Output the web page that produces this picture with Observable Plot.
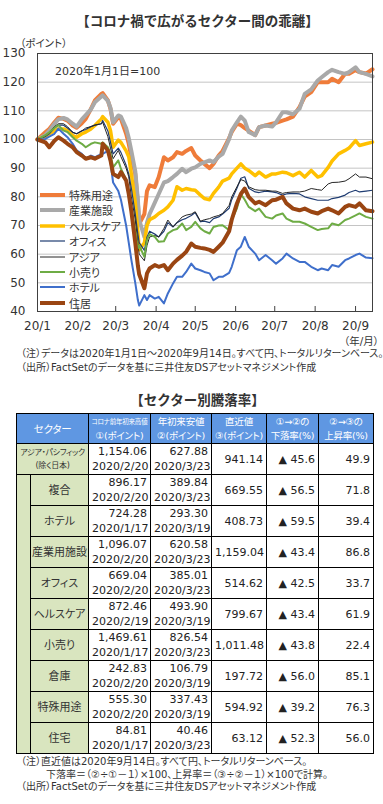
<!DOCTYPE html>
<html><head><meta charset="utf-8">
<script src="https://cdn.jsdelivr.net/npm/d3@7"></script>
<script src="https://cdn.jsdelivr.net/npm/@observablehq/plot@0.6"></script>
<style>
body{margin:0;background:#fff;font-family:"DejaVu Sans","Noto Sans CJK JP",sans-serif;color:#222;}
#wrap{position:relative;width:383px;height:804px;overflow:hidden;background:#fff;}
#wrap svg.plot{position:absolute;left:0;top:0;}
.jp{font-family:"DejaVu Sans","Noto Sans CJK JP",sans-serif;font-feature-settings:"palt";}
.abs{position:absolute;white-space:nowrap;}
.title{font-family:"Noto Sans CJK JP",sans-serif;font-weight:bold;font-size:13.5px;color:#333;}
.note{font-size:10px;line-height:14px;color:#333;}
#legend .item{position:absolute;left:0;height:14px;display:flex;align-items:center;}
#legend .item span{font-size:11px;color:#333;margin-left:3px;}
table.t{position:absolute;left:16px;top:413px;border-collapse:collapse;table-layout:fixed;width:357px;}
table.t td{border:1px solid #000;padding:0 3px;font-size:11px;line-height:15px;overflow:hidden;white-space:nowrap;}
table.t tr.h td{background:#5f97e2;color:#fff;text-align:center;height:29px;line-height:14px;font-size:9.5px;padding:0;letter-spacing:-0.2px;}
table.t tr.d td{height:30px;}
table.t td.num{text-align:right;}
table.t td.lab{background:#d9e5bf;text-align:center;font-size:11px;color:#333;}
</style></head><body><div id="wrap"></div>
<script>
// ---------- line chart data ----------
const dates = ["2020-01-01","2020-01-07","2020-01-10","2020-01-14","2020-01-17","2020-01-21","2020-01-24","2020-01-28","2020-01-31",
"2020-02-04","2020-02-07","2020-02-11","2020-02-14","2020-02-19","2020-02-20","2020-02-24","2020-02-26","2020-02-28",
"2020-03-03","2020-03-05","2020-03-09","2020-03-11","2020-03-13","2020-03-16","2020-03-18","2020-03-19","2020-03-23","2020-03-25","2020-03-27","2020-03-31",
"2020-04-03","2020-04-07","2020-04-10","2020-04-14","2020-04-17","2020-04-21","2020-04-24","2020-04-28",
"2020-05-01","2020-05-05","2020-05-08","2020-05-12","2020-05-15","2020-05-19","2020-05-22","2020-05-27","2020-05-29",
"2020-06-02","2020-06-05","2020-06-08","2020-06-11","2020-06-16","2020-06-19","2020-06-24","2020-06-29",
"2020-07-02","2020-07-07","2020-07-10","2020-07-15","2020-07-20","2020-07-24","2020-07-29",
"2020-08-03","2020-08-06","2020-08-11","2020-08-14","2020-08-19","2020-08-24","2020-08-27",
"2020-09-01","2020-09-04","2020-09-09","2020-09-14"];

const specialUse = [100,102.5,103.7,106,107.6,107.2,106.6,104.9,104.1,
105.7,107.2,110.7,113.6,115.9,116.2,113.6,110.7,105.5,
107.8,107.2,102,98.5,93.8,88,78,70.6,74,82,84,83.4,
86.9,93.8,92.7,93.8,95.6,95,96,97,
94.4,92.7,91.5,90,91.5,94.4,96,100.5,102.6,
105.5,105,104,103.1,101.5,104.3,104.9,105.5,
105.8,106.6,107,108,111.3,115,116.5,
120,120,120,121.2,120,122.9,122.9,
124.2,123.5,123,124.5];
const industrial = [100,101.5,103,105.5,107,107.5,107,105.5,104.5,
107,108.5,110.5,113,115,115.4,113.5,111,106,
108.4,108,104,100.5,96,89,79,72,66,71,74,78,
81,85,85.5,86.9,88,89.8,88.6,89.8,
90.3,91.5,92,92.7,92.1,94,95,100.2,103.1,
106,108,106.6,102.6,101.5,104.3,104.9,104.5,
106,109.5,109.5,108.8,110.7,115.9,117.5,
120.6,121.7,123.5,124.3,123.5,122.9,123.5,
125.2,123.5,122.9,122];
const healthcare = [100,101,102,103,103.7,103.7,103.1,101.4,100.8,
102,102.6,103.7,104.9,107.2,108,106,103.1,97.3,
99.8,99,96,94,88,78,68,61.5,64,70,72,73,
74.2,75.3,76.5,78.8,83.5,82.3,82.9,82.5,
82.3,80.6,79.4,79,81.2,83.4,85.5,86.5,88,
90,91.5,90,89.2,87.4,88.6,86.9,88,
88,88.6,88.4,87.4,88.6,86.9,89.2,
86.9,87.4,90.3,92.5,95,96.2,97,
99.6,97.9,98.5,99.1];
const office = [100,101,102,104,105,105,104,102.5,102,
103,103.5,104.5,105,105.5,106.6,103,99,95,
97,95.5,91,88,83,74,67,64,61.3,66,68,67,
66,68,71,69.5,71,72,72.5,73.5,
74.5,71.3,71.5,71,72.4,73,74,76,79,
83,86.5,87,83,81.7,81.5,82,81.7,
81.5,80.6,81,81.2,81,80,79.4,
78.8,78.8,78.8,79.4,79.8,80.6,81.5,
82.3,81.7,82,82.3];
const asia = [100,101.5,102.5,104.5,105.5,105.5,104.5,102.5,102,
103,104,104.5,105,105.5,106,101,97,93.3,
96.2,94,90,87,80,72,64,60,57.7,63,66,66.5,
66,69,71.9,69.5,71,73,73.6,74,
74.8,71.5,72,72.4,73,73.5,74.2,77,80,
83.5,86,85.5,83.5,82.5,82.3,82.3,82,
82,81.2,81.5,81.7,81.7,82,82.9,
82.5,82.3,84.5,85,85.1,85.5,86.3,
88,86.9,86.9,86.3];
const retail = [100,101.5,102.5,104,105,103.1,102.6,100.8,99.6,
98.5,97.3,98.5,99,98.5,99,97.3,95,90.3,
92.7,89.8,86,82,76,68,62,63,59.1,65,67,66,
64.3,64.5,67.2,68.4,68.8,70.7,68.4,69.5,
71.3,69,68,67.2,69.5,70,70.1,68.4,72,
76,81,79,76.5,75,75.9,73,72.4,
73.5,74.2,72.4,71.3,71.3,70.7,69.5,
68.4,68.8,69,70.7,70.1,71.9,72.4,
73.5,74.2,73,72.4];
const hotel = [100,100.2,101,102,103.8,102,100.8,98.5,96.2,
95,93.3,94.4,93.8,95,95,96,92,85,
82,79,70,64,58,50,44,42.05,45.7,44,45.7,44.5,
45.1,42.8,46.3,49.8,52.1,52.1,53.8,56.7,
55,54.4,53.8,53.3,50.9,52.1,52.1,53.5,55.6,
61.4,62.6,66,62.6,60.2,57.9,59.7,57.9,
56.7,58.5,60.2,58.5,57.3,57.3,55.6,
54.4,55,54.4,56.2,55.6,57.9,58.5,
59.7,60.2,58.8,58.6];
const residential = [100,99,97.3,99.6,100.8,99.6,98.5,97.3,95.6,
94.4,93.3,93.8,93.3,94.4,98.5,96.2,92.7,88,
86.9,88.6,85.7,81,75,64,56,53,48.1,53.3,55,56.2,
55.6,56.2,54.4,56.7,58,59.5,60.8,63.7,
62.6,62.2,62,61.5,60.8,62.6,64,68,72,
77.7,81,82.9,80,77.7,78.3,77.1,78.8,
79,80,77.7,75.9,75.3,75.9,74.8,
74.2,75,75.9,75.3,74.2,76.5,77.1,
76.5,77.7,75.3,75];

const seriesNames = ["特殊用途","産業施設","ヘルスケア","オフィス","アジア","小売り","ホテル","住居"];
const seriesValues = [specialUse, industrial, healthcare, office, asia, retail, hotel, residential];
const seriesColors = ["#ef7c3a","#a9a9a9","#ffc000","#1f3c72","#262626","#6eac45","#3f6fcb","#9a4512"];
const seriesWidths = [4, 4, 3.5, 1.2, 1, 2, 2, 4];

const yTicks = [40,50,60,70,80,90,100,110,120,130];
const monthTicks = ["2020-01-01","2020-02-01","2020-03-01","2020-04-01","2020-05-01","2020-06-01","2020-07-01","2020-08-01","2020-09-01"];
const xTickLabels = ["20/1","20/2","20/3","20/4","20/5","20/6","20/7","20/8","20/9"];

// ---------- table data ----------
const tSectors = ["アジア・パシフィック","複合","ホテル","産業用施設","オフィス","ヘルスケア","小売り","倉庫","特殊用途","住宅"];
const tHigh = [1154.06,896.17,724.28,1096.07,669.04,872.46,1469.61,242.83,555.30,84.81];
const tHighDate = ["2020/2/20","2020/2/20","2020/1/17","2020/2/20","2020/2/20","2020/2/19","2020/1/17","2020/2/20","2020/2/20","2020/1/17"];
const tLow = [627.88,389.84,293.30,620.58,385.01,493.90,826.54,106.79,337.43,40.46];
const tLowDate = ["2020/3/23","2020/3/23","2020/3/19","2020/3/23","2020/3/23","2020/3/19","2020/3/23","2020/3/19","2020/3/19","2020/3/23"];
const tLatest = [941.14,669.55,408.73,1159.04,514.62,799.67,1011.48,197.72,594.92,63.12];
const tFall = [45.6,56.5,59.5,43.4,42.5,43.4,43.8,56.0,39.2,52.3];
const tRise = [49.9,71.8,39.4,86.8,33.7,61.9,22.4,85.1,76.3,56.0];

// ---------- build chart ----------
const wrap = document.getElementById("wrap");
const rows = [];
seriesNames.forEach((name, i) => seriesValues[i].forEach((v, j) => rows.push({name, date: new Date(dates[j]), v})));
const mTicks = monthTicks.map(d => new Date(d));

const lineMarks = seriesNames.map((name, i) => Plot.lineY(rows.filter(r => r.name === name), {
  x: "date", y: "v", stroke: seriesColors[i], strokeWidth: seriesWidths[i], strokeLinejoin: "round"
}));

const chart = Plot.plot({
  width: 383, height: 336,
  marginTop: 53, marginBottom: 25, marginLeft: 37, marginRight: 11,
  style: {fontFamily: "DejaVu Sans", fontSize: "12px", color: "#333", background: "transparent"},
  x: {type: "utc", domain: [new Date("2020-01-01"), new Date("2020-09-14")], label: null},
  y: {domain: [40, 130], label: null},
  marks: [
    Plot.gridY(yTicks.slice(1, -1), {stroke: "#c4c4c4", strokeOpacity: 1}),
    Plot.ruleX(mTicks, {stroke: "#404040", insetTop: 253}),
    ...lineMarks,
    Plot.frame({stroke: "#404040"}),
    Plot.axisY(yTicks, {tickSize: 0, tickPadding: 12, fontSize: 12}),
    Plot.axisX(mTicks, {tickSize: 0, tickPadding: 10, fontSize: 12, tickFormat: (d, i) => xTickLabels[i]})
  ]
});
chart.classList.add("plot");
wrap.appendChild(chart);

function addDiv(html, style, cls) {
  const d = document.createElement("div");
  d.className = "abs " + (cls || "");
  d.innerHTML = html;
  Object.assign(d.style, style);
  wrap.appendChild(d);
  return d;
}
addDiv("【コロナ禍で広がるセクター間の乖離】", {left: "6px", width: "383px", textAlign: "center", top: "10px"}, "title");
addDiv("（ポイント）", {left: "20px", top: "35px", fontSize: "10.5px", color: "#333"}, "jp");
addDiv("2020年1月1日=100", {left: "55px", top: "62px", fontSize: "11px", color: "#333"}, "jp");
addDiv("（年/月）", {right: "4px", top: "333px", fontSize: "10.5px", color: "#333"}, "jp");
addDiv("（注）データは2020年1月1日～2020年9月14日。すべて円、トータルリターンベース。<br>（出所）FactSetのデータを基に三井住友DSアセットマネジメント作成",
  {left: "21px", top: "347px"}, "jp note");
addDiv("【セクター別騰落率】", {left: "6px", width: "383px", textAlign: "center", top: "389px"}, "title");
addDiv("（注）直近値は2020年9月14日。すべて円、トータルリターンベース。<br>&emsp;&emsp;&ensp;下落率＝（②÷①－１）×100、上昇率＝（③÷②－１）×100で計算。<br>（出所）FactSetのデータを基に三井住友DSアセットマネジメント作成",
  {left: "21px", top: "756px", lineHeight: "12.5px"}, "jp note");

// legend
const legend = addDiv("", {left: "39px", top: "188px"});
legend.id = "legend";
seriesNames.forEach((name, i) => {
  const it = document.createElement("div");
  it.className = "item";
  it.style.top = (i * 15.4) + "px";
  it.innerHTML = `<svg width="27" height="10"><line x1="1" x2="26" y1="5" y2="5" stroke="${seriesColors[i]}" stroke-width="${seriesWidths[i]}"/></svg><span class="jp">${name}</span>`;
  legend.appendChild(it);
});

// ---------- table ----------
const fmt = d3.format(",.2f");
let html = `<colgroup><col style="width:14px"><col style="width:58px"><col style="width:62px"><col style="width:61px"><col style="width:55px"><col style="width:52px"><col style="width:55px"></colgroup>`;
html += `<tr class="h"><td colspan="2" class="jp" style="font-size:10.5px">セクター</td>
<td class="jp"><span style="font-size:6.5px">コロナ前年初来高値</span><br>①(ポイント)</td>
<td class="jp">年初来安値<br>②(ポイント)</td>
<td class="jp">直近値<br>③(ポイント)</td>
<td class="jp">①→②の<br>下落率(%)</td>
<td class="jp">②→③の<br>上昇率(%)</td></tr>`;
tSectors.forEach((s, i) => {
  let lab;
  if (i === 0) lab = `<td colspan="2" class="lab jp" style="font-size:8px;line-height:13px;padding:0;letter-spacing:-0.3px">${s}<br>(除く日本)</td>`;
  else lab = (i === 1 ? `<td rowspan="9" class="lab"></td>` : "") + `<td class="lab jp" style="padding:0">${s}</td>`;
  html += `<tr class="d">${lab}
<td class="num">${fmt(tHigh[i])}<br>${tHighDate[i]}</td>
<td class="num">${fmt(tLow[i])}<br>${tLowDate[i]}</td>
<td class="num">${fmt(tLatest[i])}</td>
<td class="num">▲ ${tFall[i].toFixed(1)}</td>
<td class="num">${tRise[i].toFixed(1)}</td></tr>`;
});
const table = document.createElement("table");
table.className = "t";
table.innerHTML = html;
wrap.appendChild(table);
</script></body></html>
